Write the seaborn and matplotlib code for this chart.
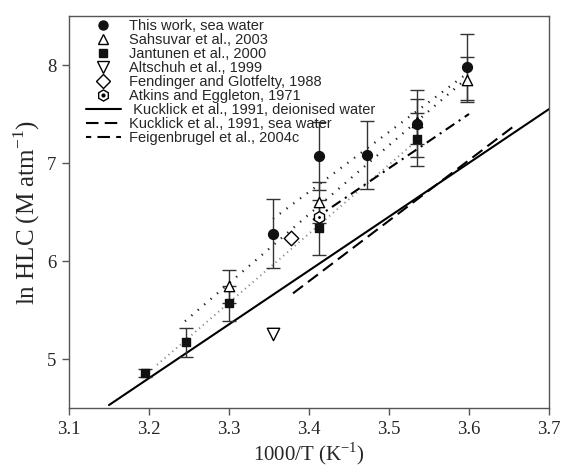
import matplotlib
matplotlib.use('Agg')
import matplotlib.pyplot as plt
import seaborn as sns
from matplotlib.lines import Line2D
from matplotlib.legend_handler import HandlerTuple

# 数据
this_x = [3.355, 3.412, 3.472, 3.535, 3.597]
this_y = [6.28, 7.07, 7.08, 7.40, 7.98]
this_err = [0.35, 0.35, 0.35, 0.34, 0.34]

sahsuvar_x = [3.300, 3.412, 3.535, 3.597]
sahsuvar_y = [5.74, 6.60, 7.42, 7.85]
sahsuvar_err = [0.17, 0.21, 0.23, 0.23]

jantunen_x = [3.195, 3.246, 3.300, 3.412, 3.535]
jantunen_y = [4.86, 5.17, 5.57, 6.34, 7.24]
jantunen_err = [0.04, 0.15, 0.18, 0.28, 0.27]

altschuh_x, altschuh_y = [3.355], [5.26]
fendinger_x, fendinger_y = [3.378], [6.23]
atkins_x, atkins_y = [3.412], [6.45]

# 拟合线端点
this_fit_x, this_fit_y = [3.355, 3.597], [6.43, 7.91]
sahsuvar_fit_x, sahsuvar_fit_y = [3.245, 3.597], [5.385, 7.863]
jantunen_fit_x, jantunen_fit_y = [3.21, 3.535], [4.94, 7.23]
kuck_di_x, kuck_di_y = [3.15, 3.70], [4.53, 7.55]
kuck_sw_x, kuck_sw_y = [3.38, 3.66], [5.67, 7.40]
feigen_x, feigen_y = [3.405, 3.60], [6.42, 7.50]

labels = ['This work, sea water', 'Sahsuvar et al., 2003', 'Jantunen et al., 2000',
          'Altschuh et al., 1999', 'Fendinger and Glotfelty, 1988', 'Atkins and Eggleton, 1971',
          ' Kucklick et al., 1991, deionised water', 'Kucklick et al., 1991, sea water',
          'Feigenbrugel et al., 2004c']

sns.set_style('ticks')
plt.rcParams['font.family'] = ['Liberation Serif', 'DejaVu Serif']
plt.rcParams['mathtext.fontset'] = 'custom'
plt.rcParams['mathtext.rm'] = 'Liberation Serif'

fig = plt.figure(figsize=(5.63, 4.66), dpi=100)
ax = fig.add_axes([69 / 563, 1 - 408 / 466, 480 / 563, 392 / 466])

# 线
line_kw = dict(ax=ax, color='black', estimator=None, sort=False, legend=False)
sns.lineplot(x=this_fit_x, y=this_fit_y, lw=1.6, linestyle=(0, (0.6, 3.2)), color='#222222',
             ax=ax, estimator=None, sort=False, legend=False)
sns.lineplot(x=sahsuvar_fit_x, y=sahsuvar_fit_y, lw=1.6, linestyle=(0, (0.6, 3.2)), color='#222222',
             ax=ax, estimator=None, sort=False, legend=False)
sns.lineplot(x=jantunen_fit_x, y=jantunen_fit_y, lw=1.4, linestyle=(0, (0.6, 2.0)), color='#888888',
             ax=ax, estimator=None, sort=False, legend=False)
sns.lineplot(x=kuck_di_x, y=kuck_di_y, lw=1.5, linestyle='-', **line_kw)
sns.lineplot(x=kuck_sw_x, y=kuck_sw_y, lw=1.5, linestyle=(0, (6, 3)), **line_kw)
sns.lineplot(x=feigen_x, y=feigen_y, lw=1.5, linestyle=(0, (5, 2.5, 1, 2.5)), **line_kw)

# 误差棒
eb_kw = dict(fmt='none', ecolor='#333333', elinewidth=1, capsize=5, capthick=1, zorder=3)
ax.errorbar(this_x, this_y, yerr=this_err, **eb_kw)
ax.errorbar(sahsuvar_x, sahsuvar_y, yerr=sahsuvar_err, **eb_kw)
ax.errorbar(jantunen_x, jantunen_y, yerr=jantunen_err, **eb_kw)

# 点
sc_kw = dict(ax=ax, legend=False, zorder=5, linewidth=1)
sns.scatterplot(x=jantunen_x, y=jantunen_y, marker='s', s=40, color='#111111', edgecolor='#111111', **sc_kw)
sns.scatterplot(x=sahsuvar_x, y=sahsuvar_y, marker='^', s=55, facecolor='white', edgecolor='black', **sc_kw)
sns.scatterplot(x=this_x, y=this_y, marker='o', s=50, color='#111111', edgecolor='#111111', **sc_kw)
sns.scatterplot(x=altschuh_x, y=altschuh_y, marker='v', s=80, facecolor='white', edgecolor='black', **sc_kw)
sns.scatterplot(x=fendinger_x, y=fendinger_y, marker='D', s=55, facecolor='white', edgecolor='black', **sc_kw)
sns.scatterplot(x=atkins_x, y=atkins_y, marker='h', s=70, facecolor='white', edgecolor='black', **sc_kw)
sns.scatterplot(x=atkins_x, y=atkins_y, marker='o', s=5, color='black', ax=ax, legend=False, zorder=6)

# 图例
handles = [
    Line2D([], [], ls='none', marker='o', ms=6.5, color='#111111'),
    Line2D([], [], ls='none', marker='^', ms=7, mfc='white', mec='black'),
    Line2D([], [], ls='none', marker='s', ms=6, color='#111111'),
    Line2D([], [], ls='none', marker='v', ms=8.5, mfc='white', mec='black'),
    Line2D([], [], ls='none', marker='D', ms=7.5, mfc='white', mec='black'),
    (Line2D([], [], ls='none', marker='h', ms=8, mfc='white', mec='black'),
     Line2D([], [], ls='none', marker='o', ms=2, color='black')),
    Line2D([], [], color='black', lw=1.5),
    Line2D([], [], color='black', lw=1.5, ls=(0, (6, 3))),
    Line2D([], [], color='black', lw=1.5, ls=(0, (2.5, 3, 6, 3))),
]
ax.legend(handles, labels, loc='upper left', bbox_to_anchor=(0.035, 0.993), frameon=False,
          prop={'family': 'Liberation Sans', 'size': 10.5}, borderpad=0, borderaxespad=0,
          labelspacing=0.0, handlelength=2.4, handletextpad=0.55, handleheight=0.6,
          handler_map={tuple: HandlerTuple(ndivide=1, pad=0)})

ax.set_xlim(3.1, 3.7)
ax.set_ylim(4.5, 8.5)
ax.set_xticks([3.1, 3.2, 3.3, 3.4, 3.5, 3.6, 3.7])
ax.set_yticks([5, 6, 7, 8])
ax.tick_params(direction='out', length=5, width=1, color='#555555', labelsize=13.5, pad=4)
for sp in ax.spines.values():
    sp.set_visible(True)
    sp.set_color('#555555')
    sp.set_linewidth(1)
ax.set_xlabel(r'1000/T (K$^{\mathregular{-1}}$)', fontsize=15, labelpad=2)
ax.set_ylabel(r'ln HLC (M atm$^{\mathregular{-1}}$)', fontsize=18, labelpad=4)

fig.savefig('out.png', dpi=100)
